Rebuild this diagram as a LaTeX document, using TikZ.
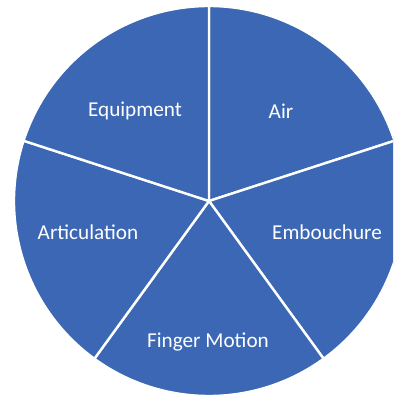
\documentclass[tikz,border=0pt]{standalone}
\usepackage{fontspec}
\setmainfont{Carlito}
\definecolor{pieblue}{RGB}{59,103,180}
\tikzset{
    slice/.style={fill=pieblue, draw=white, line width=2.4pt, line join=round},
    label/.style={text=white, font=\fontsize{21.2}{25}\selectfont, inner sep=0pt}
}
\begin{document}
\begin{tikzpicture}
            \useasboundingbox (0pt,0pt) rectangle (393pt,-395pt);
            \clip (0pt,0pt) rectangle (393pt,-395pt);
            \coordinate (c) at (209pt,-201pt);

            \draw[slice] (c) -- ++(90:195pt) arc[start angle=90, end angle=18, radius=195pt] -- cycle;
            \draw[slice] (c) -- ++(18:195pt) arc[start angle=18, end angle=-54, radius=195pt] -- cycle;
            \draw[slice] (c) -- ++(-54:195pt) arc[start angle=-54, end angle=-126, radius=195pt] -- cycle;
            \draw[slice] (c) -- ++(-126:195pt) arc[start angle=-126, end angle=-198, radius=195pt] -- cycle;
            \draw[slice] (c) -- ++(162:195pt) arc[start angle=162, end angle=90, radius=195pt] -- cycle;

            \node[label] (air) at (281pt,-111pt) {Air};
            \node[label] (emb) at (327pt,-232pt) {Embouchure};
            \node[label] (fin) at (208pt,-342pt) {Finger Motion};
            \node[label] (art) at (88pt,-232pt) {Articulation};
            \node[label] (equ) at (135pt,-111pt) {Equipment};
        \end{tikzpicture}
\end{document}
